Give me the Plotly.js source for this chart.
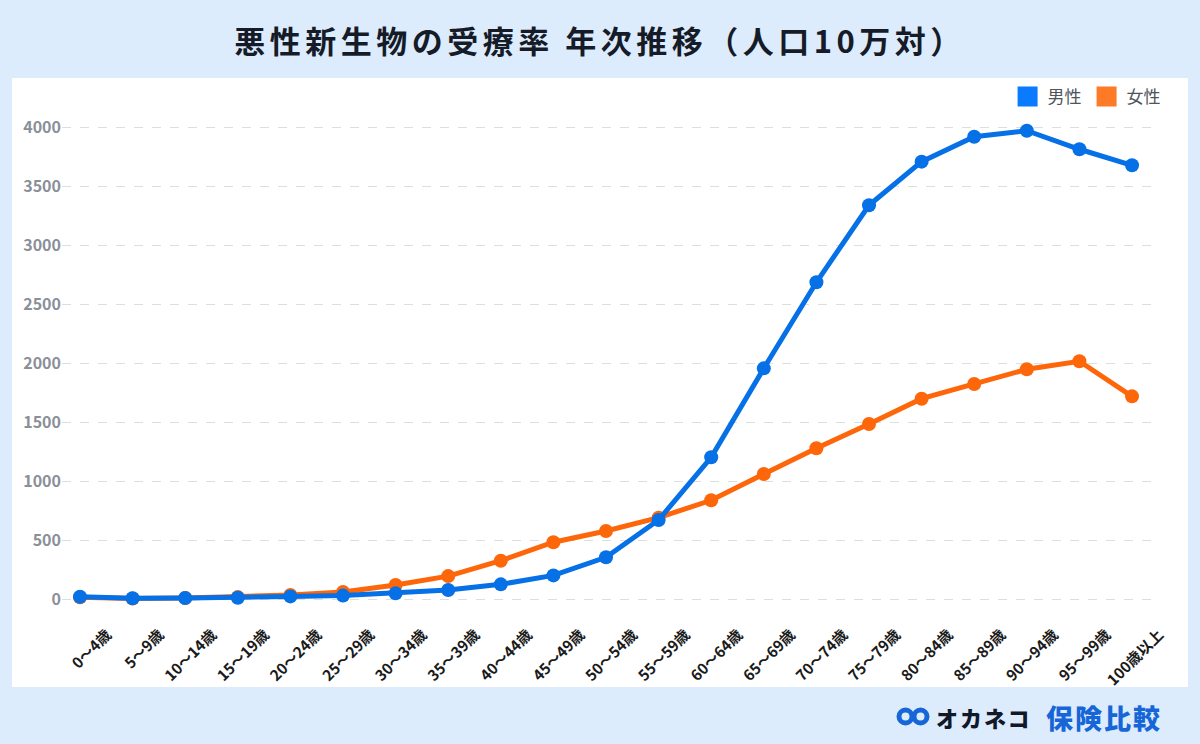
<!DOCTYPE html>
<html>
<head>
<meta charset="utf-8">
<script src="https://cdn.plot.ly/plotly-3.0.1.min.js"></script>
<style>
html, body { margin: 0; padding: 0; background: #ddecfd; }
#chart { width: 1200px; height: 744px; }
.gtitle { letter-spacing: 4.5px; }
.annotation-text { letter-spacing: 2px; }
</style>
</head>
<body>
<div id="chart"></div>
<script>
// ---- data ----
const categories = ['0～4歳','5～9歳','10～14歳','15～19歳','20～24歳','25～29歳','30～34歳','35～39歳','40～44歳','45～49歳','50～54歳','55～59歳','60～64歳','65～69歳','70～74歳','75～79歳','80～84歳','85～89歳','90～94歳','95～99歳','100歳以上'];
const maleValues = [25, 12, 14, 17, 28, 35, 54, 82, 130, 206, 359, 675, 1206, 1959, 2688, 3340, 3709, 3920, 3971, 3814, 3678];
const femaleValues = [20, 10, 14, 22, 40, 65, 124, 200, 330, 487, 582, 695, 842, 1064, 1282, 1488, 1702, 1827, 1951, 2019, 1722];
const seriesNames = ['男性', '女性'];
const yTickValues = [0, 500, 1000, 1500, 2000, 2500, 3000, 3500, 4000];
const titleText = '悪性新生物の受療率 年次推移（人口10万対）';

// ---- styling ----
const FONT = '"Noto Sans CJK JP", "Noto Sans", sans-serif';
const blueLine = '#0670e6', orangeLine = '#fd670a';
const blueKey = '#0a7bff', orangeKey = '#ff7a26';

// pixel -> paper helpers (plot area: x 62..1159, y 100..612)
const L = 62, R = 1159, T = 100, B = 612;
const px = v => (v - L) / (R - L);
const py = v => (B - v) / (B - T);

const traces = [
  { type: 'scatter', mode: 'lines+markers', name: seriesNames[1], x: categories, y: femaleValues,
    line: { color: orangeLine, width: 5 }, marker: { color: orangeLine, size: 14 }, showlegend: false, hoverinfo: 'skip' },
  { type: 'scatter', mode: 'lines+markers', name: seriesNames[0], x: categories, y: maleValues,
    line: { color: blueLine, width: 5 }, marker: { color: blueLine, size: 14 }, showlegend: false, hoverinfo: 'skip' },
  { type: 'scatter', mode: 'markers', name: seriesNames[0], x: [null], y: [null],
    marker: { color: blueKey, size: 16, symbol: 'square', line: { color: blueKey, width: 4 } }, showlegend: true, hoverinfo: 'skip' },
  { type: 'scatter', mode: 'markers', name: seriesNames[1], x: [null], y: [null],
    marker: { color: orangeKey, size: 16, symbol: 'square', line: { color: orangeKey, width: 4 } }, showlegend: true, hoverinfo: 'skip' }
];

const layout = {
  width: 1200, height: 744,
  paper_bgcolor: '#ddecfd', plot_bgcolor: '#ffffff',
  margin: { l: L, r: 1200 - R, t: T, b: 744 - B },
  font: { family: FONT },
  title: { text: titleText, x: 0.5, xref: 'container', xanchor: 'center', y: 1 - 42 / 744, yref: 'container', yanchor: 'middle',
           font: { family: FONT, size: 31, color: '#161b28', weight: 'bold' } },
  xaxis: {
    type: 'category', range: [-0.342, 20.513], showgrid: false, zeroline: false, showline: false,
    tickangle: -45, ticks: '', ticklabelshift: 27, ticklabelstandoff: 10,
    tickfont: { family: FONT, size: 15, color: '#1a1a1a', weight: 'bold' }, fixedrange: true
  },
  yaxis: {
    range: [-104, 4231], tickvals: yTickValues, ticktext: yTickValues.map(String),
    showgrid: true, gridcolor: '#dedede', griddash: 'dash', gridwidth: 1, zeroline: false, showline: false, ticks: '',
    tickfont: { family: FONT, size: 16, color: '#8a8f98', weight: 'bold' }, fixedrange: true
  },
  legend: { orientation: 'h', x: 1.006, xanchor: 'right', y: py(97), yanchor: 'middle',
            font: { family: FONT, size: 17, color: '#4f545c' }, bgcolor: 'rgba(0,0,0,0)', itemclick: false, itemdoubleclick: false },
  shapes: [
    { type: 'rect', xref: 'paper', yref: 'paper', x0: px(12), x1: px(1188), y0: py(687), y1: py(78),
      fillcolor: '#ffffff', line: { width: 0 }, layer: 'below' },
    { type: 'circle', xref: 'paper', yref: 'paper', x0: px(899), x1: px(912), y0: py(723), y1: py(710),
      line: { color: '#1666d8', width: 5 }, fillcolor: 'rgba(0,0,0,0)' },
    { type: 'circle', xref: 'paper', yref: 'paper', x0: px(914), x1: px(927), y0: py(723), y1: py(710),
      line: { color: '#1666d8', width: 5 }, fillcolor: 'rgba(0,0,0,0)' }
  ],
  annotations: [
    { xref: 'paper', yref: 'paper', x: px(1034), y: py(717), xanchor: 'right', yanchor: 'middle', showarrow: false,
      text: 'オカネコ', font: { family: FONT, size: 22, color: '#111827', weight: 900 } },
    { xref: 'paper', yref: 'paper', x: px(1164), y: py(717), xanchor: 'right', yanchor: 'middle', showarrow: false,
      text: '保険比較', font: { family: FONT, size: 27, color: '#1666d8', weight: 900 } }
  ],
  hovermode: false
};

Plotly.newPlot('chart', traces, layout, { displayModeBar: false, staticPlot: true });
</script>
</body>
</html>
